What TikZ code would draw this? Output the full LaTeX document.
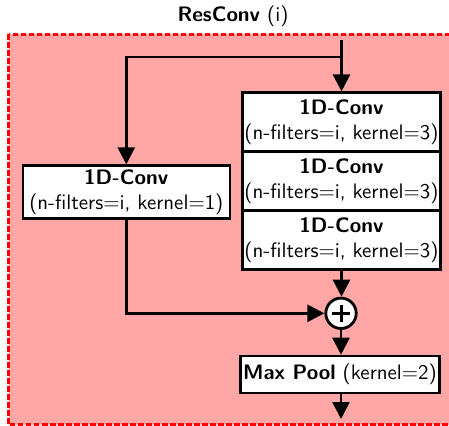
\documentclass[tikz,border=0pt]{standalone}
\usetikzlibrary{arrows.meta}
\begin{document}
\begin{tikzpicture}[x=0.5pt,y=-0.5pt, line width=1.3pt,
  txt/.style={font=\sffamily\fontsize{10.45}{12.4}\selectfont},
  box/.style={draw=black, fill=white, line width=1.3pt, inner sep=0pt, align=center, txt},
  convbox/.style={box, minimum width=99pt, minimum height=29.5pt},
  arr/.style={-{Triangle[length=8.5pt,width=8.5pt]}},
  frame/.style={draw=red, fill=red!35, line width=1.3pt, dash pattern=on 2.6pt off 1.4pt}]
\clip (0,0) rectangle (449,425);
\path[frame] (8.5,34.3) rectangle (455,424.5);
\node[txt, anchor=base] (title) at (233,21) {\textbf{ResConv} (i)};
\node[convbox] (r1) at (341.5,122.2) {\textbf{1D-Conv}\\(n-filters=i, kernel=3)};
\node[convbox] (r2) at (341.5,181.2) {\textbf{1D-Conv}\\(n-filters=i, kernel=3)};
\node[convbox] (r3) at (341.5,240.1) {\textbf{1D-Conv}\\(n-filters=i, kernel=3)};
\node[box, minimum width=103.5pt, minimum height=26.3pt] (left) at (126.3,192) {\textbf{1D-Conv}\\(n-filters=i, kernel=1)};
\node[draw=black, fill=white, circle, minimum size=15.2pt, inner sep=0pt, line width=1.4pt,
  path picture={\draw[line width=1.5pt] ([xshift=-4.3pt]path picture bounding box.center) -- ([xshift=4.3pt]path picture bounding box.center)
  ([yshift=-4.3pt]path picture bounding box.center) -- ([yshift=4.3pt]path picture bounding box.center);}] (plus) at (341,313.3) {};
\node[box, minimum width=99.5pt, minimum height=18.5pt] (pool) at (340,374.5) {\textbf{Max Pool} (kernel=2)};
\coordinate (in) at (341.5,40);
\coordinate (br) at (341.5,57);
\coordinate (out) at (341,419);
\draw[arr] (in) -- (r1.north);
\draw[arr] (br) -| (left.north);
\draw[arr] (left.south) |- (plus.west);
\draw[arr] (r3.south) -- (r3.south |- plus.north);
\draw[arr] (plus.south) -- (plus.south |- pool.north);
\draw[arr] (pool.south -| plus.south) -- (out);
\end{tikzpicture}
\end{document}
